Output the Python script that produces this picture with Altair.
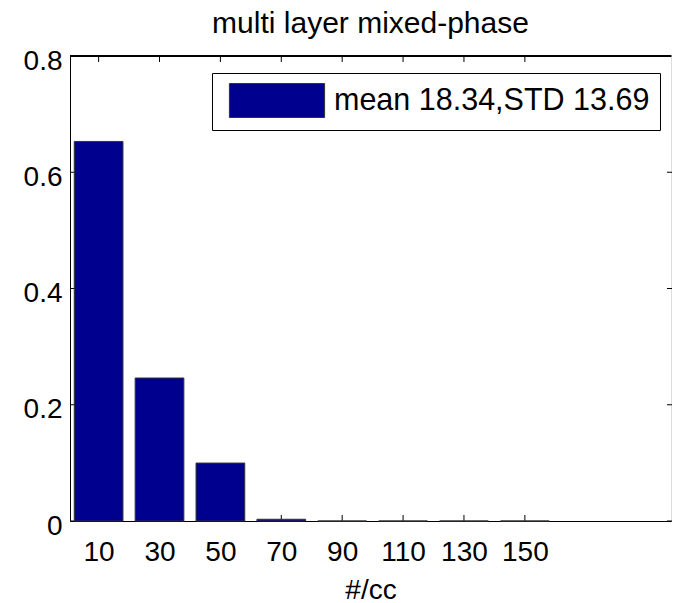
import altair as alt
import pandas as pd

# ---- data ----
bin_centers = [10, 30, 50, 70, 90, 110, 130, 150]
fractions = [0.653, 0.246, 0.0997, 0.003, 0.0, 0.0, 0.0, 0.0]
x_ticks = [10, 30, 50, 70, 90, 110, 130, 150]
y_ticks = [0, 0.2, 0.4, 0.6, 0.8]
title_text = "multi layer mixed-phase"
x_title = "#/cc"
legend_label = "mean 18.34,STD 13.69"

W, H = 601, 465
FONT = "Liberation Sans"
BAR_COLOR = "#00008F"

bars_df = pd.DataFrame({"center": bin_centers, "frac": fractions,
                        "series": [legend_label] * len(bin_centers)})
xt_df = pd.DataFrame({"t": x_ticks})
yt_df = pd.DataFrame({"t": y_ticks})

xscale = alt.Scale(domain=[0.6, 198], nice=False, zero=False)
yscale = alt.Scale(domain=[0, 0.8], nice=False)

x_axis = alt.Axis(values=x_ticks, title=x_title, grid=False, ticks=False, tickSize=0,
                  domainColor="black", domainWidth=1,
                  labelFont=FONT, labelFontSize=28, labelColor="black",
                  labelBaseline="alphabetic", labelPadding=39,
                  labelFlush=False, labelOverlap=False,
                  titleFont=FONT, titleFontSize=28, titleFontWeight="normal",
                  titleColor="black", titleBaseline="alphabetic", titleY=77)
y_axis = alt.Axis(values=y_ticks, format="~g", title=None, grid=False, ticks=False,
                  tickSize=0, domainColor="black", domainWidth=1,
                  labelFont=FONT, labelFontSize=28, labelColor="black",
                  labelBaseline="alphabetic", labelPadding=8, labelOffset=13,
                  labelFlush=False, labelOverlap=False)

legend = alt.Legend(title=None, orient="none", legendX=142, legendY=17,
                    symbolType="M-2.8,-1L2.8,-1L2.8,1L-2.8,1Z", symbolSize=1156,
                    symbolStrokeColor="#333333", symbolStrokeWidth=1,
                    symbolOffset=37.5, labelOffset=39.5,
                    labelFont=FONT, labelFontSize=30.5, labelColor="black", labelLimit=0,
                    padding=10, strokeColor="black", fillColor="white")

bars = alt.Chart(bars_df).transform_calculate(
    x0="datum.center - 8", x1="datum.center + 8"
).mark_bar(stroke="#333333", strokeWidth=1).encode(
    x=alt.X("x0:Q", scale=xscale, axis=x_axis),
    x2="x1:Q",
    y=alt.Y("frac:Q", scale=yscale, axis=y_axis),
    y2=alt.datum(0),
    color=alt.Color("series:N", scale=alt.Scale(domain=[legend_label], range=[BAR_COLOR]),
                    legend=legend),
)

tick_style = dict(color="black", strokeWidth=1)
bottom_ticks = alt.Chart(xt_df).mark_rule(**tick_style).encode(
    x=alt.X("t:Q", scale=xscale, axis=x_axis), y=alt.value(H), y2=alt.value(H - 6))
top_ticks = alt.Chart(xt_df).mark_rule(**tick_style).encode(
    x=alt.X("t:Q", scale=xscale, axis=x_axis), y=alt.value(0), y2=alt.value(6))
left_ticks = alt.Chart(yt_df).mark_rule(**tick_style).encode(
    y=alt.Y("t:Q", scale=yscale, axis=y_axis), x=alt.value(0), x2=alt.value(5))
right_ticks = alt.Chart(yt_df).mark_rule(**tick_style).encode(
    y=alt.Y("t:Q", scale=yscale, axis=y_axis), x=alt.value(W - 4), x2=alt.value(W + 1))
top_line = alt.Chart(xt_df).mark_rule(**tick_style).encode(
    x=alt.value(0), x2=alt.value(W), y=alt.value(0))

chart = alt.layer(bottom_ticks, top_ticks, left_ticks, right_ticks, top_line, bars).properties(
    width=W, height=H,
    title=alt.Title(title_text, font=FONT, fontSize=30, fontWeight="normal", color="black",
                    anchor="middle", baseline="alphabetic", offset=22, dy=38),
    autosize=alt.AutoSizeParams(type="none"),
    padding={"left": 70, "top": 56, "right": 4, "bottom": 82},
).configure_view(stroke=None).configure(background="white")

chart.save("out.html", embed_options={"renderer": "svg", "actions": False})
